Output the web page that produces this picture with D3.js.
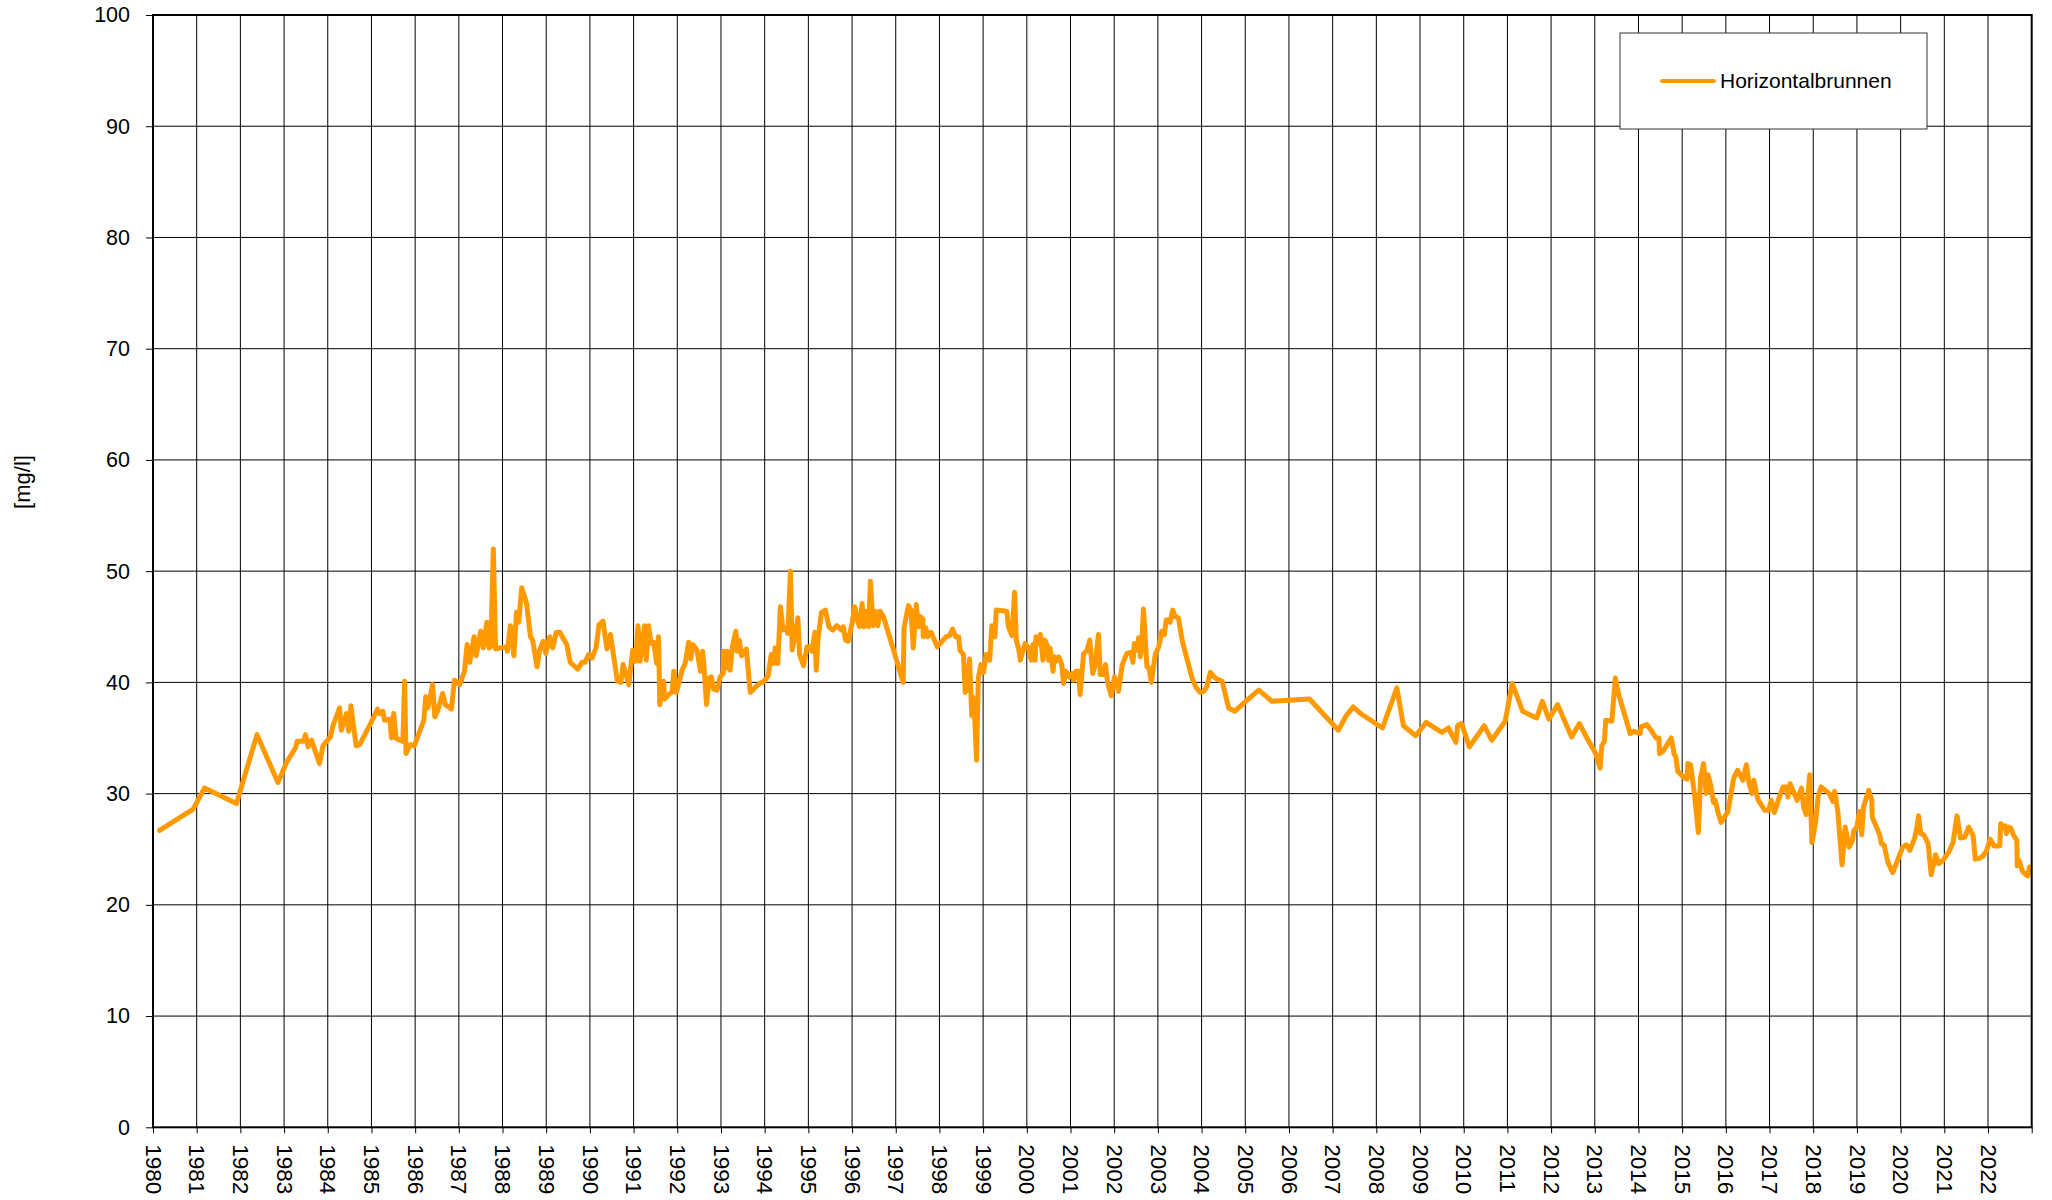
<!DOCTYPE html>
<html>
<head>
<meta charset="utf-8">
<script src="https://cdn.jsdelivr.net/npm/d3@7"></script>
<style>
  body { margin: 0; background: #fff; }
  svg text { font-family: "Liberation Sans", Arial, sans-serif; fill: #000; }
</style>
</head>
<body>
<div id="chart"></div>
<script>
// sampling dates (decimal years) and measured values [mg/l]
const sampleYears = [
  1980.15, 1980.92, 1981.18, 1981.91, 1982.38, 1982.86, 1983.07, 1983.26, 1983.30, 1983.44,
  1983.49, 1983.55, 1983.63, 1983.81, 1983.89, 1984.06, 1984.12, 1984.27, 1984.31, 1984.43,
  1984.48, 1984.53, 1984.65, 1984.73, 1984.98, 1985.14, 1985.19, 1985.26, 1985.30, 1985.42,
  1985.46, 1985.51, 1985.56, 1985.65, 1985.72, 1985.76, 1985.79, 1985.89, 1985.98, 1986.20,
  1986.24, 1986.29, 1986.40, 1986.45, 1986.52, 1986.63, 1986.69, 1986.83, 1986.90, 1987.02,
  1987.13, 1987.19, 1987.25, 1987.35, 1987.40, 1987.50, 1987.56, 1987.64, 1987.69, 1987.73,
  1987.79, 1987.84, 1987.94, 1988.09, 1988.11, 1988.18, 1988.26, 1988.32, 1988.37, 1988.44,
  1988.49, 1988.55, 1988.64, 1988.69, 1988.79, 1988.85, 1988.93, 1988.99,
  1989.08, 1989.15, 1989.23, 1989.31, 1989.47, 1989.55, 1989.72, 1989.82, 1989.89, 1989.97,
  1990.05, 1990.14, 1990.21, 1990.30, 1990.39, 1990.47, 1990.63, 1990.71, 1990.76, 1990.89,
  1990.98, 1991.05, 1991.10, 1991.15, 1991.25, 1991.29, 1991.34, 1991.40, 1991.46, 1991.53,
  1991.57, 1991.60, 1991.69, 1991.71, 1991.83, 1991.88, 1991.92, 1991.98, 1992.11, 1992.18,
  1992.26, 1992.31, 1992.35, 1992.40, 1992.45, 1992.53, 1992.58, 1992.62, 1992.67, 1992.73,
  1992.78, 1992.83, 1992.91, 1992.98, 1993.05, 1993.06, 1993.11, 1993.15, 1993.21, 1993.26,
  1993.34, 1993.37, 1993.42, 1993.47, 1993.52, 1993.58, 1993.67, 1993.77, 1993.88, 1993.99,
  1994.08, 1994.15, 1994.21, 1994.24, 1994.30, 1994.36, 1994.42, 1994.49, 1994.53, 1994.59,
  1994.63, 1994.70, 1994.76, 1994.80, 1994.89, 1994.97, 1995.05, 1995.08, 1995.15, 1995.18,
  1995.22, 1995.30, 1995.39, 1995.47, 1995.56, 1995.65, 1995.76, 1995.80, 1995.85, 1995.91,
  1996.00, 1996.06, 1996.13, 1996.17, 1996.23, 1996.27, 1996.34, 1996.38, 1996.42, 1996.48,
  1996.53, 1996.59, 1996.64, 1996.72, 1997.17,
  1997.19, 1997.29, 1997.35, 1997.40, 1997.47, 1997.52, 1997.56, 1997.62, 1997.63, 1997.69,
  1997.73, 1997.81, 1997.95, 1998.15, 1998.23, 1998.30, 1998.37, 1998.44, 1998.47, 1998.55,
  1998.59, 1998.64, 1998.69, 1998.74, 1998.76, 1998.79, 1998.85, 1998.89, 1998.95, 1999.01,
  1999.07, 1999.15, 1999.20, 1999.27, 1999.30, 1999.54, 1999.58, 1999.66, 1999.72, 1999.76,
  1999.82, 1999.85, 1999.96, 2000.04, 2000.10, 2000.14, 2000.19, 2000.21, 2000.27, 2000.31,
  2000.37, 2000.41, 2000.46, 2000.50, 2000.53, 2000.60, 2000.63, 2000.67, 2000.73, 2000.80,
  2000.84, 2000.89, 2000.97, 2001.03, 2001.07, 2001.12, 2001.18, 2001.22, 2001.30, 2001.37,
  2001.44, 2001.51, 2001.56, 2001.64, 2001.68, 2001.76, 2001.80, 2001.85, 2001.93, 2002.01,
  2002.10, 2002.18, 2002.29, 2002.38, 2002.43, 2002.46, 2002.52, 2002.56, 2002.60, 2002.63,
  2002.67, 2002.75, 2002.80, 2002.85, 2002.94, 2003.02, 2003.09, 2003.15, 2003.19, 2003.24,
  2003.28, 2003.34, 2003.40, 2003.47, 2003.56, 2003.78, 2003.88, 2003.97, 2004.05, 2004.12,
  2004.20, 2004.31, 2004.47, 2004.62, 2004.76, 2005.04, 2005.31, 2005.61,
  2006.47, 2007.13, 2007.31, 2007.47, 2007.64, 2008.14, 2008.47, 2008.62, 2008.90, 2009.14,
  2009.50, 2009.65, 2009.82, 2009.86, 2009.95, 2010.13, 2010.47, 2010.64, 2010.95, 2011.11,
  2011.35, 2011.67, 2011.80, 2011.95, 2012.15, 2012.47, 2012.65, 2012.82, 2013.02, 2013.12,
  2013.16, 2013.22, 2013.25, 2013.39, 2013.47, 2013.54, 2013.81, 2013.89, 2014.04,
  2014.06, 2014.19, 2014.29, 2014.40, 2014.47, 2014.48, 2014.56, 2014.75, 2014.82, 2014.85,
  2014.90, 2015.05, 2015.11, 2015.13, 2015.19, 2015.28, 2015.37, 2015.42, 2015.49, 2015.55,
  2015.59, 2015.65, 2015.72, 2015.76, 2015.82, 2015.89, 2016.05, 2016.10, 2016.18, 2016.27,
  2016.39, 2016.47, 2016.53, 2016.60, 2016.64, 2016.73, 2016.89, 2016.98, 2017.04, 2017.11,
  2017.19, 2017.31, 2017.38, 2017.42, 2017.47, 2017.63, 2017.73, 2017.78, 2017.84, 2017.92,
  2017.97, 2018.05, 2018.11, 2018.18, 2018.37, 2018.45, 2018.49, 2018.56, 2018.66, 2018.73,
  2018.82, 2018.89, 2018.93, 2019.00, 2019.06, 2019.11, 2019.15, 2019.27, 2019.34, 2019.35,
  2019.52, 2019.56, 2019.62, 2019.71, 2019.82, 2020.05, 2020.13, 2020.21, 2020.32, 2020.38,
  2020.41, 2020.46, 2020.53, 2020.63, 2020.70, 2020.80, 2020.87, 2020.97, 2021.11, 2021.20,
  2021.29, 2021.37, 2021.47, 2021.56, 2021.66, 2021.71, 2021.81, 2021.89, 2021.97, 2022.05,
  2022.14, 2022.27, 2022.29, 2022.35, 2022.39, 2022.42, 2022.46, 2022.52, 2022.58, 2022.66,
  2022.67, 2022.71, 2022.79, 2022.87, 2022.91, 2022.95
];

const nitrate = [
  26.7, 28.6, 30.5, 29.1, 35.3, 31.0, 32.9, 34.1, 34.7, 34.7,
  35.3, 34.2, 34.8, 32.7, 34.3, 35.1, 36.1, 37.7, 35.7, 37.2,
  35.6, 37.9, 34.3, 34.4, 36.3, 37.6, 37.2, 37.4, 36.6, 36.7,
  35.0, 37.2, 35.0, 34.8, 34.7, 40.1, 33.6, 34.4, 34.3, 36.6,
  38.7, 37.7, 39.8, 36.9, 37.5, 39.0, 38.0, 37.6, 40.2, 39.8,
  41.0, 43.4, 41.8, 44.1, 42.4, 44.6, 43.1, 45.4, 43.1, 43.2,
  52.0, 43.0, 43.1, 43.2, 42.8, 45.1, 42.4, 46.3, 45.4, 48.5,
  47.9, 47.1, 44.1, 43.8, 41.4, 42.9, 43.7, 42.6,
  44.1, 43.1, 44.5, 44.5, 43.4, 41.8, 41.2, 41.8, 41.8, 42.5,
  42.2, 43.1, 45.2, 45.5, 43.0, 44.3, 40.1, 40.0, 41.6, 39.8,
  42.9, 41.9, 45.1, 41.9, 45.1, 42.0, 45.1, 43.5, 43.6, 41.7,
  44.1, 38.0, 40.1, 38.5, 39.0, 39.1, 41.0, 39.1, 41.1, 41.7,
  43.6, 42.1, 43.4, 43.2, 42.9, 41.0, 42.8, 41.0, 38.0, 40.4,
  40.5, 39.4, 39.3, 40.5, 40.8, 42.8, 41.3, 42.8, 41.1, 43.2,
  44.6, 42.8, 43.8, 42.4, 42.6, 43.0, 39.1, 39.5, 39.9, 40.1,
  40.6, 42.5, 41.7, 43.1, 41.7, 46.8, 44.7, 44.9, 44.4, 50.0,
  42.9, 44.3, 45.8, 42.5, 41.5, 43.2, 43.2, 42.8, 44.5, 41.1,
  43.9, 46.3, 46.5, 45.0, 44.7, 45.1, 44.7, 45.0, 43.8, 43.7,
  45.3, 46.8, 45.5, 45.0, 47.1, 45.0, 46.4, 45.0, 49.1, 45.1,
  46.4, 45.1, 46.4, 45.9, 40.0,
  44.9, 46.9, 46.5, 43.1, 47.0, 45.0, 45.9, 45.7, 44.1, 44.9,
  44.1, 44.5, 43.2, 44.1, 44.2, 44.8, 44.1, 44.1, 42.9, 42.5,
  39.1, 39.5, 42.1, 37.0, 38.7, 38.4, 33.0, 40.4, 41.6, 40.9,
  42.5, 42.0, 45.1, 44.1, 46.5, 46.4, 45.0, 44.2, 48.1, 43.8,
  42.9, 42.0, 43.5, 43.1, 42.0, 43.4, 42.0, 44.1, 43.5, 44.3,
  42.0, 43.8, 43.4, 42.0, 43.1, 41.0, 42.3, 41.9, 42.3, 41.6,
  39.9, 41.0, 40.5, 40.8, 40.2, 41.0, 41.0, 38.9, 42.6, 42.8,
  43.8, 40.8, 41.5, 44.3, 40.7, 40.7, 41.6, 40.0, 38.8, 40.5,
  39.2, 41.5, 42.6, 42.7, 41.8, 43.5, 42.9, 44.0, 42.3, 43.4,
  46.6, 41.4, 41.3, 40.0, 42.5, 43.2, 44.6, 44.3, 45.6, 45.6,
  45.4, 46.5, 45.9, 45.8, 43.7, 40.4, 39.5, 39.1, 39.2, 39.6,
  40.9, 40.4, 40.1, 37.7, 37.4, 38.4, 39.3, 38.3,
  38.5, 35.7, 37.0, 37.8, 37.2, 35.9, 39.5, 36.1, 35.2, 36.4,
  35.5, 35.9, 34.6, 36.1, 36.3, 34.2, 36.1, 34.8, 36.5, 39.9,
  37.4, 36.8, 38.3, 36.7, 38.0, 35.1, 36.3, 35.0, 33.6, 32.3,
  34.3, 34.7, 36.6, 36.5, 40.4, 39.0, 35.4, 35.6, 35.4,
  36.0, 36.2, 35.7, 35.0, 35.0, 33.6, 33.8, 35.0, 33.5, 33.4,
  32.0, 31.4, 31.3, 32.7, 32.6, 30.0, 26.5, 31.4, 32.7, 30.0,
  31.7, 30.8, 29.2, 29.4, 28.3, 27.4, 28.4, 29.6, 31.4, 32.1,
  31.2, 32.6, 30.9, 30.0, 31.2, 29.5, 28.5, 28.5, 29.4, 28.3,
  29.3, 30.6, 30.6, 29.7, 30.9, 29.4, 30.5, 28.8, 28.1, 31.7,
  25.6, 27.3, 29.7, 30.6, 30.0, 29.3, 30.2, 28.5, 23.6, 27.0,
  25.2, 25.7, 26.7, 27.0, 28.4, 26.3, 28.8, 30.3, 29.4, 27.9,
  26.3, 25.5, 25.4, 23.8, 22.9, 25.2, 25.4, 24.9, 26.0, 27.1,
  28.0, 26.4, 26.3, 25.5, 22.7, 24.5, 23.7, 24.0, 24.8, 25.6,
  28.0, 26.0, 26.1, 27.0, 26.2, 24.1, 24.2, 24.4, 24.9, 25.9,
  25.3, 25.3, 27.3, 27.0, 27.1, 26.4, 27.0, 26.9, 26.3, 25.8,
  23.5, 24.0, 23.0, 22.7, 22.6, 23.4
];

const yearLabels = [
  "1980", "1981", "1982", "1983", "1984", "1985", "1986", "1987", "1988", "1989",
  "1990", "1991", "1992", "1993", "1994", "1995", "1996", "1997", "1998", "1999",
  "2000", "2001", "2002", "2003", "2004", "2005", "2006", "2007", "2008", "2009",
  "2010", "2011", "2012", "2013", "2014", "2015", "2016", "2017", "2018", "2019",
  "2020", "2021", "2022"
];
const valueTicks = [0, 10, 20, 30, 40, 50, 60, 70, 80, 90, 100];
const seriesName = "Horizontalbrunnen";
const unitLabel = "[mg/l]";

const W = 2052, H = 1200;
const margin = {top: 15, right: 20.3, bottom: 72.7, left: 153};
const width = W - margin.left - margin.right;
const height = H - margin.top - margin.bottom;
const ORANGE = "#ff9900";

const svg = d3.select("#chart").append("svg")
  .attr("width", W)
  .attr("height", H);

const g = svg.append("g")
  .attr("transform", "translate(" + margin.left + "," + margin.top + ")");

const x = d3.scaleLinear().domain([1980, 2023]).range([0, width]);
const y = d3.scaleLinear().domain([0, 100]).range([height, 0]);

const tickYears = yearLabels.map(Number).concat([2023]);

// grid
g.append("g").selectAll("line")
  .data(tickYears.slice(1, -1))
  .join("line")
  .attr("x1", d => x(d)).attr("x2", d => x(d))
  .attr("y1", 0).attr("y2", height)
  .attr("stroke", "#000").attr("stroke-width", 1);

g.append("g").selectAll("line")
  .data(valueTicks.slice(1, -1))
  .join("line")
  .attr("x1", 0).attr("x2", width)
  .attr("y1", d => y(d)).attr("y2", d => y(d))
  .attr("stroke", "#000").attr("stroke-width", 1);

// axes
const yAxis = g.append("g")
  .call(d3.axisLeft(y).tickValues(valueTicks).tickSize(7).tickPadding(16));
yAxis.select(".domain").remove();
yAxis.selectAll("line").attr("stroke", "#000");
yAxis.selectAll("text")
  .attr("font-size", 21.5)
  .attr("font-family", "Liberation Sans, Arial, sans-serif");

const xAxis = g.append("g")
  .attr("transform", "translate(0," + height + ")")
  .call(d3.axisBottom(x).tickValues(tickYears).tickSize(6)
    .tickFormat(d => d < 2023 ? String(d) : ""));
xAxis.select(".domain").remove();
xAxis.selectAll("line").attr("stroke", "#000");
xAxis.selectAll("text")
  .attr("font-size", 22.5)
  .attr("font-family", "Liberation Sans, Arial, sans-serif")
  .attr("transform", "rotate(90)")
  .attr("x", 17)
  .attr("y", 0)
  .attr("dy", "0.35em")
  .style("text-anchor", "start");

// data line
const line = d3.line()
  .x(i => x(sampleYears[i]))
  .y(i => y(nitrate[i]));

g.append("path")
  .datum(d3.range(sampleYears.length))
  .attr("fill", "none")
  .attr("stroke", ORANGE)
  .attr("stroke-width", 5)
  .attr("stroke-linejoin", "round")
  .attr("stroke-linecap", "round")
  .attr("d", line);

// plot frame
g.append("rect")
  .attr("x", 0).attr("y", 0)
  .attr("width", width).attr("height", height)
  .attr("fill", "none")
  .attr("stroke", "#000")
  .attr("stroke-width", 2);

// y title
svg.append("text")
  .attr("transform", "translate(22,482) rotate(-90)")
  .attr("text-anchor", "middle")
  .attr("dy", "0.35em")
  .attr("font-size", 22)
  .text(unitLabel);

// legend
const legend = svg.append("g");
legend.append("rect")
  .attr("x", 1620).attr("y", 33)
  .attr("width", 307).attr("height", 96)
  .attr("fill", "#fff")
  .attr("stroke", "#333")
  .attr("stroke-width", 1);
legend.append("line")
  .attr("x1", 1662).attr("x2", 1714)
  .attr("y1", 81).attr("y2", 81)
  .attr("stroke", ORANGE)
  .attr("stroke-width", 4)
  .attr("stroke-linecap", "round");
legend.append("text")
  .attr("x", 1720).attr("y", 88)
  .attr("font-size", 21)
  .text(seriesName);
</script>
</body>
</html>
